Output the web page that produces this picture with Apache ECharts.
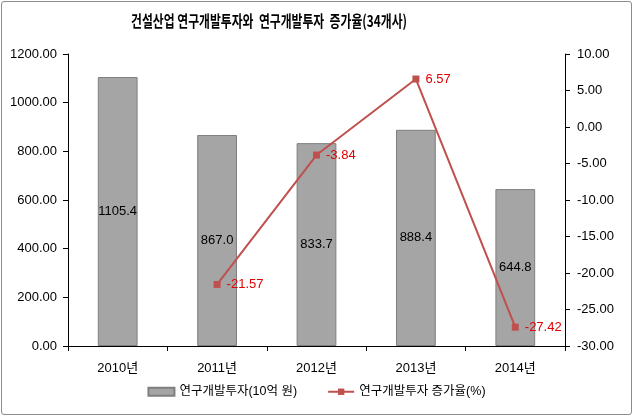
<!DOCTYPE html>
<html><head><meta charset="utf-8">
<script src="https://cdn.jsdelivr.net/npm/echarts@6/dist/echarts.min.js"></script>
<style>
html,body{margin:0;padding:0;background:#fff;}
#wrap{position:absolute;left:1px;top:1px;width:629px;height:412px;border:1px solid #8c8c8c;border-radius:3px;}
#c{position:absolute;left:0;top:0;width:633px;height:416px;}
</style></head>
<body><div id="wrap"></div><div id="c"></div>
<script>
const categories = ['2010년','2011년','2012년','2013년','2014년'];
const investment = [1105.4, 867.0, 833.7, 888.4, 644.8];
const growthRate = [null, -21.57, -3.84, 6.57, -27.42];
const titleText = '건설산업 연구개발투자와  연구개발투자  증가율(34개사)';
const seriesNames = ['연구개발투자(10억 원)', '연구개발투자 증가율(%)'];

const font = '"Liberation Sans", Arial, "Noto Sans CJK KR", sans-serif';
const chart = echarts.init(document.getElementById('c'), null, {renderer:'canvas'});
chart.setOption({
  animation:false,
  textStyle:{fontFamily:font},
  graphic:[{type:'text',x:269,y:21,scaleX:0.74,scaleY:1,
    style:{text:titleText,font:'bold 16px "Noto Sans CJK KR", sans-serif',fill:'#000',align:'center',verticalAlign:'middle'}}],
  grid:{left:68,right:68,top:54,bottom:70},
  legend:{bottom:13,left:'center',itemGap:30,itemWidth:26,itemHeight:8,
    textStyle:{fontFamily:font,fontSize:12.5,color:'#000'},
    data:[{name:seriesNames[0],icon:'rect'},{name:seriesNames[1]}]},
  xAxis:{type:'category',data:categories,
    axisLine:{lineStyle:{color:'#000'}},
    axisTick:{show:true,alignWithLabel:false,length:5,lineStyle:{color:'#000'}},
    axisLabel:{color:'#000',fontSize:13,margin:16,fontFamily:font}},
  yAxis:[
    {type:'value',min:0,max:1200,interval:200,
     axisLine:{show:true,lineStyle:{color:'#000'}},
     axisTick:{show:true,length:5,lineStyle:{color:'#000'}},
     splitLine:{show:false},
     axisLabel:{color:'#000',fontSize:13,margin:11,formatter:v=>v.toFixed(2)}},
    {type:'value',min:-30,max:10,interval:5,position:'right',
     axisLine:{show:true,lineStyle:{color:'#000'}},
     axisTick:{show:true,length:5,lineStyle:{color:'#000'}},
     splitLine:{show:false},
     axisLabel:{color:'#000',fontSize:13,margin:12,formatter:v=>v.toFixed(2)}}
  ],
  series:[
    {name:seriesNames[0],type:'bar',data:investment,barWidth:'40%',
     itemStyle:{color:'#a5a5a5',borderColor:'#7f7f7f',borderWidth:1},
     label:{show:true,position:'inside',color:'#000',fontSize:13,fontFamily:font,formatter:p=>p.value.toFixed(1)}},
    {name:seriesNames[1],type:'line',yAxisIndex:1,data:growthRate,connectNulls:false,
     symbol:'rect',symbolSize:7,
     lineStyle:{color:'#c0504d',width:2},
     itemStyle:{color:'#c0504d'},
     label:{show:true,position:'right',distance:6,color:'#e00000',fontSize:13,fontFamily:font,formatter:p=>p.value==null?'':p.value.toFixed(2)}}
  ]
});
</script></body></html>
